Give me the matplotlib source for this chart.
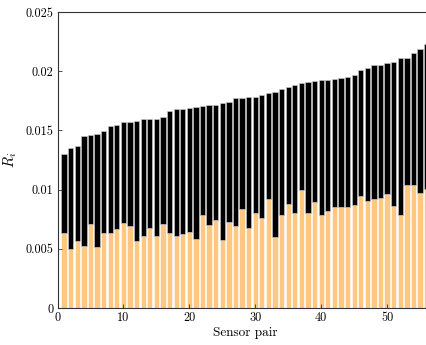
import numpy as np
import matplotlib
matplotlib.use('Agg')
import matplotlib.pyplot as plt

'''data read off the chart'''
pair = np.arange(1, 57)
total = [0.01303, 0.01354, 0.01371, 0.01453, 0.01458, 0.01467, 0.01492, 0.01540,
         0.01546, 0.01571, 0.01568, 0.01582, 0.01596, 0.01598, 0.01599, 0.01616,
         0.01667, 0.01681, 0.01683, 0.01693, 0.01700, 0.01704, 0.01712, 0.01716,
         0.01731, 0.01740, 0.01772, 0.01777, 0.01783, 0.01786, 0.01800, 0.01813,
         0.01824, 0.01847, 0.01866, 0.01888, 0.01905, 0.01906, 0.01922, 0.01924,
         0.01929, 0.01933, 0.01940, 0.01953, 0.01969, 0.02010, 0.02028, 0.02054,
         0.02055, 0.02072, 0.02077, 0.02108, 0.02110, 0.02158, 0.02187, 0.02234]
lower = [0.00634, 0.00502, 0.00563, 0.00524, 0.00706, 0.00518, 0.00636, 0.00638,
         0.00668, 0.00716, 0.00692, 0.00570, 0.00607, 0.00675, 0.00612, 0.00707,
         0.00631, 0.00609, 0.00623, 0.00646, 0.00583, 0.00783, 0.00700, 0.00743,
         0.00572, 0.00724, 0.00690, 0.00834, 0.00676, 0.00800, 0.00758, 0.00918,
         0.00604, 0.00785, 0.00876, 0.00799, 0.01001, 0.00806, 0.00893, 0.00785,
         0.00819, 0.00856, 0.00853, 0.00850, 0.00873, 0.00946, 0.00904, 0.00918,
         0.00932, 0.00966, 0.00861, 0.00785, 0.01036, 0.01036, 0.00968, 0.01008]
upper = np.array(total) - np.array(lower)

yticks = [0, 0.005, 0.01, 0.015, 0.02, 0.025]
ytick_labels = ['0', '0.005', '0.01', '0.015', '0.02', '0.025']
xticks = [0, 10, 20, 30, 40, 50]

'''style'''
plt.rcParams['font.family'] = 'serif'
plt.rcParams['font.serif'] = ['cmr10']
plt.rcParams['mathtext.fontset'] = 'cm'
plt.rcParams['axes.unicode_minus'] = False

fig = plt.figure(figsize=(4.26, 3.45), dpi=100)
ax = fig.add_axes([0.135, 0.107, 0.882, 0.858])

ax.bar(pair, lower, width=0.8, color='#FFC77F', edgecolor='white', linewidth=0.4)
ax.bar(pair, upper, bottom=lower, width=0.8, color='black', edgecolor='#d0d0d0', linewidth=0.4)

ax.set_xlim(0, 57)
ax.set_ylim(0, 0.025)
ax.set_yticks(yticks)
ax.set_yticklabels(ytick_labels)
ax.set_xticks(xticks)
ax.tick_params(direction='in', length=3, width=0.6, labelsize=8.8, color='#333333',
               top=False, right=False, pad=3)
for s in ax.spines.values():
    s.set_linewidth(0.8)
    s.set_color('#333333')

ax.set_xlabel('Sensor pair', fontsize=9.5, labelpad=2)
ax.set_ylabel('$R_i$', fontsize=10.5, labelpad=5)

fig.savefig('out.png', dpi=100)
